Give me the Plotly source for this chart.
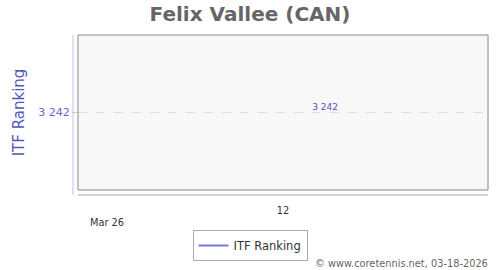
import plotly.graph_objects as go

x_ticks = [1]
x_ticklabels = ["12"]
point_x = [1.205]
month_label = "Mar 26"
ranking = [3242]
series_name = "ITF Ranking"
title = "Felix Vallee (CAN)"
footer = "© www.coretennis.net, 03-18-2026"

fig = go.Figure()
fig.add_trace(go.Scatter(
    x=point_x, y=ranking, name=series_name, mode="lines+text",
    line=dict(color="#7777dd", width=2),
    texttemplate="%{y:,}", textposition="top center",
    textfont=dict(family="DejaVu Sans", size=9, color="#5555bb"),
    cliponaxis=False,
))

fig.update_layout(
    width=500, height=270,
    margin=dict(l=78, r=12, t=35, b=80, autoexpand=False),
    paper_bgcolor="white", plot_bgcolor="#f8f8f8",
    separators=". ",
    title=dict(text="<b>" + title + "</b>", x=0.5, xanchor="center", y=1 - 14/270, yanchor="middle",
               font=dict(family="DejaVu Sans", size=20, color="#666666")),
    showlegend=True,
    legend=dict(orientation="h", x=(250 - 78) / 410, xanchor="center", y=-(245.5 - 190) / 155,
                yanchor="middle", itemwidth=30,
                bordercolor="#aaaaaa", borderwidth=1, bgcolor="white",
                font=dict(family="DejaVu Sans", size=11.5, color="#333333")),
    font=dict(family="DejaVu Sans"),
)

fig.update_xaxes(range=[0, 2], tickvals=x_ticks, ticktext=x_ticklabels, showgrid=False,
                 zeroline=False, ticks="outside", ticklen=11, tickcolor="rgba(0,0,0,0)",
                 tickfont=dict(size=9.8, color="#333333"),
                 showline=False, fixedrange=True)
fig.update_yaxes(range=[3241, 3243], tickvals=ranking, tickformat=",", showgrid=True,
                 gridcolor="#dddddd", griddash="dash", gridwidth=1, zeroline=False,
                 ticks="outside", ticklen=5, tickcolor="#cccccc",
                 tickfont=dict(size=11, color="#6666cc"),
                 title=dict(text=series_name, font=dict(size=15, color="#5555bb"), standoff=10),
                 showline=False)

# plot frame
fig.add_shape(type="rect", xref="paper", yref="paper", x0=0, x1=1, y0=0, y1=1,
              line=dict(color="#888888", width=1), fillcolor="rgba(0,0,0,0)")
# y axis line offset left
fig.add_shape(type="line", xref="paper", yref="paper", x0=-5/410, x1=-5/410, y0=-5/155, y1=1,
              line=dict(color="#c0c0e8", width=1))
# x axis line offset below
fig.add_shape(type="line", xref="paper", yref="paper", x0=0, x1=1, y0=-5/155, y1=-5/155,
              line=dict(color="#aaaaaa", width=1))

fig.add_annotation(text=month_label, xref="paper", yref="paper", x=10/410, y=-25/155,
                   xanchor="left", yanchor="top", showarrow=False,
                   font=dict(size=9.8, color="#333333"))
fig.add_annotation(text=footer, xref="paper", yref="paper", x=1.005, y=-66/155,
                   xanchor="right", yanchor="top", showarrow=False,
                   font=dict(size=9.8, color="#666666"))

fig.write_html("out.html")
